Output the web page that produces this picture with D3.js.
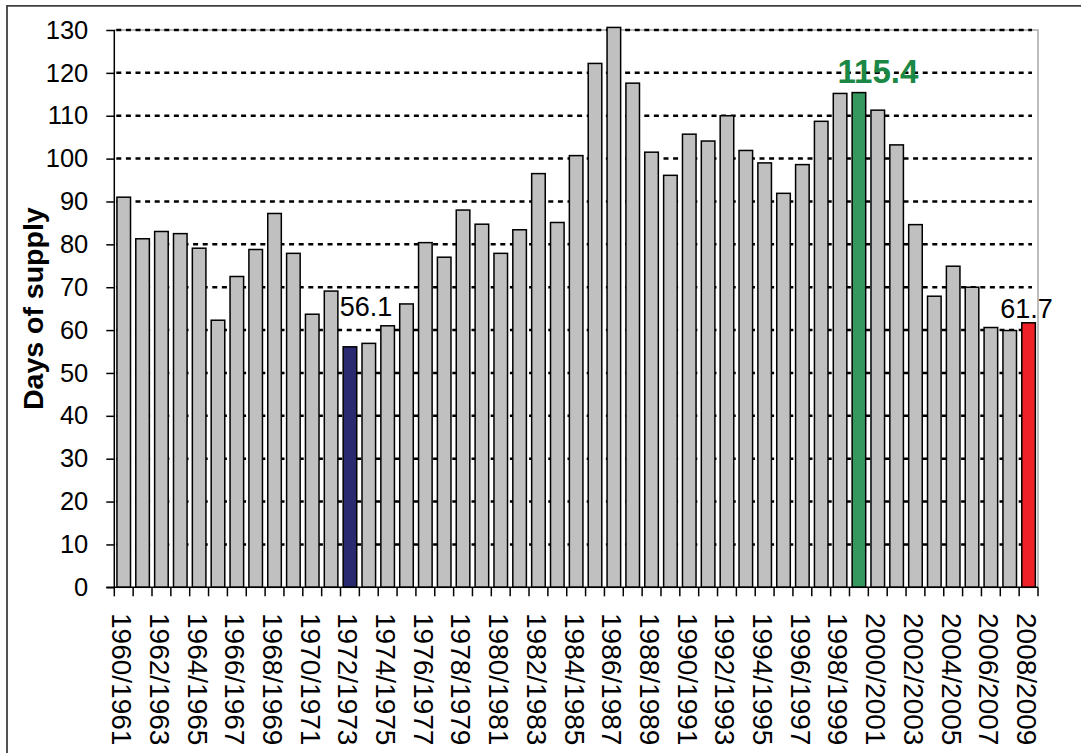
<!DOCTYPE html>
<html>
<head>
<meta charset="utf-8">
<script src="https://cdn.jsdelivr.net/npm/d3@7/dist/d3.min.js"></script>
<style>
  html, body { margin: 0; padding: 0; background: #fff; }
  svg { display: block; }
  text { font-family: "Liberation Sans", Arial, sans-serif; }
</style>
</head>
<body>
<svg id="chart" width="1081" height="753"></svg>
<script>
const categories = [
  "1960/1961","1961/1962","1962/1963","1963/1964","1964/1965","1965/1966","1966/1967","1967/1968",
  "1968/1969","1969/1970","1970/1971","1971/1972","1972/1973","1973/1974","1974/1975","1975/1976",
  "1976/1977","1977/1978","1978/1979","1979/1980","1980/1981","1981/1982","1982/1983","1983/1984",
  "1984/1985","1985/1986","1986/1987","1987/1988","1988/1989","1989/1990","1990/1991","1991/1992",
  "1992/1993","1993/1994","1994/1995","1995/1996","1996/1997","1997/1998","1998/1999","1999/2000",
  "2000/2001","2001/2002","2002/2003","2003/2004","2004/2005","2005/2006","2006/2007","2007/2008",
  "2008/2009"
];
const daysOfSupply = [
  91.0, 81.3, 83.0, 82.5, 79.1, 62.3, 72.5, 78.8,
  87.2, 77.9, 63.7, 69.1, 56.1, 56.9, 61.0, 66.1,
  80.4, 77.0, 88.0, 84.7, 77.9, 83.4, 96.5, 85.1,
  100.7, 122.2, 130.6, 117.6, 101.5, 96.1, 105.7, 104.1,
  110.0, 101.9, 99.0, 91.9, 98.6, 108.7, 115.2, 115.4,
  111.3, 103.2, 84.6, 67.9, 74.9, 70.0, 60.6, 59.9,
  61.7
];
const yTicks = [0,10,20,30,40,50,60,70,80,90,100,110,120,130];
const xTickLabels = categories.filter((d, i) => i % 2 === 0);
const highlightMin = "1972/1973";
const highlightMax = "1999/2000";
const highlightLast = "2008/2009";
const yTitle = "Days of supply";

(function () {
const svg = d3.select("#chart");
const pLeft = 114.3, pRight = 1038, pTop = 30, pBottom = 587.3;
const pad = 0.28;

const x = d3.scaleBand().domain(categories).range([pLeft, pRight])
  .paddingInner(pad).paddingOuter(pad / 2);
const y = d3.scaleLinear().domain([0, 130]).range([pBottom, pTop]);
const step = x.step();

// outer frame
svg.append("path").attr("d", `M7,760 L7,5.8 L1090,5.8`)
  .attr("fill", "none").attr("stroke", "#404040").attr("stroke-width", 1.8);

// plot area border (light gray top/right)
svg.append("path").attr("d", `M${pLeft},${pTop} L${pRight},${pTop} L${pRight},${pBottom}`)
  .attr("fill", "none").attr("stroke", "#a8a8a8").attr("stroke-width", 1.5);

// gridlines
svg.append("g").selectAll("line").data(yTicks.filter(d => d > 0)).join("line")
  .attr("x1", pLeft + 2).attr("x2", pRight - 6)
  .attr("y1", d => y(d)).attr("y2", d => y(d))
  .attr("stroke", "#000").attr("stroke-width", 2.5)
  .attr("stroke-dasharray", "5,4.6");

// bars
const fillFor = c => c === highlightMin ? "#2a2a70" : c === highlightMax ? "#36985f" : c === highlightLast ? "#ee2128" : "#c0c0c0";
svg.append("g").selectAll("rect").data(categories).join("rect")
  .attr("x", c => x(c))
  .attr("width", x.bandwidth())
  .attr("y", (c, i) => y(daysOfSupply[i]))
  .attr("height", (c, i) => y(0) - y(daysOfSupply[i]))
  .attr("fill", c => fillFor(c))
  .attr("stroke", "#000").attr("stroke-width", 1.5);

// y axis
const yAxis = d3.axisLeft(y).tickValues(yTicks).tickSize(8).tickPadding(18);
const gy = svg.append("g").attr("transform", `translate(${pLeft},0)`).call(yAxis);
gy.select(".domain").attr("stroke", "#000").attr("stroke-width", 1.5).attr("d", `M0,${pTop}V${pBottom}`);
gy.selectAll(".tick line").attr("stroke", "#000").attr("stroke-width", 1.5);
gy.selectAll(".tick text").attr("font-size", 25.5).attr("fill", "#000")
  .attr("font-family", "Liberation Sans, Arial, sans-serif");

// x axis: line + ticks at category boundaries
svg.append("line").attr("x1", pLeft - 8).attr("x2", pRight).attr("y1", pBottom).attr("y2", pBottom)
  .attr("stroke", "#000").attr("stroke-width", 1.5);
const boundaries = categories.map(c => x(c) - step * pad / 2).concat([pRight]);
svg.append("g").selectAll("line").data(boundaries).join("line")
  .attr("x1", d => d).attr("x2", d => d)
  .attr("y1", pBottom).attr("y2", pBottom + 9)
  .attr("stroke", "#000").attr("stroke-width", 1.5);

// x labels
svg.append("g").selectAll("text").data(xTickLabels).join("text")
  .attr("transform", c => `translate(${x(c) + x.bandwidth() / 2 - 1.5},613) rotate(90)`)
  .attr("dy", "0.36em")
  .attr("font-size", 28)
  .attr("fill", "#000")
  .text(c => c);

// y title
svg.append("text")
  .attr("transform", `translate(43,${(pTop + pBottom) / 2}) rotate(-90)`)
  .attr("text-anchor", "middle")
  .attr("font-size", 28.5).attr("font-weight", "bold").attr("fill", "#000")
  .text(yTitle);

// data labels
const iMin = categories.indexOf(highlightMin);
const iMax = categories.indexOf(highlightMax);
const iLast = categories.indexOf(highlightLast);
const cx = c => x(c) + x.bandwidth() / 2;
svg.append("text")
  .attr("x", cx(highlightMin) + 16).attr("y", y(daysOfSupply[iMin]) - 31)
  .attr("text-anchor", "middle").attr("font-size", 27).attr("fill", "#000")
  .text(daysOfSupply[iMin].toFixed(1));
svg.append("text")
  .attr("x", cx(highlightMax) + 19).attr("y", y(daysOfSupply[iMax]) - 9.5)
  .attr("text-anchor", "middle").attr("font-size", 33).attr("font-weight", "bold").attr("fill", "#1b8846")
  .text(daysOfSupply[iMax].toFixed(1));
svg.append("text")
  .attr("x", cx(highlightLast) - 2).attr("y", y(daysOfSupply[iLast]) - 4.5)
  .attr("text-anchor", "middle").attr("font-size", 27).attr("fill", "#000")
  .text(daysOfSupply[iLast].toFixed(1));
})();
</script>
</body>
</html>
